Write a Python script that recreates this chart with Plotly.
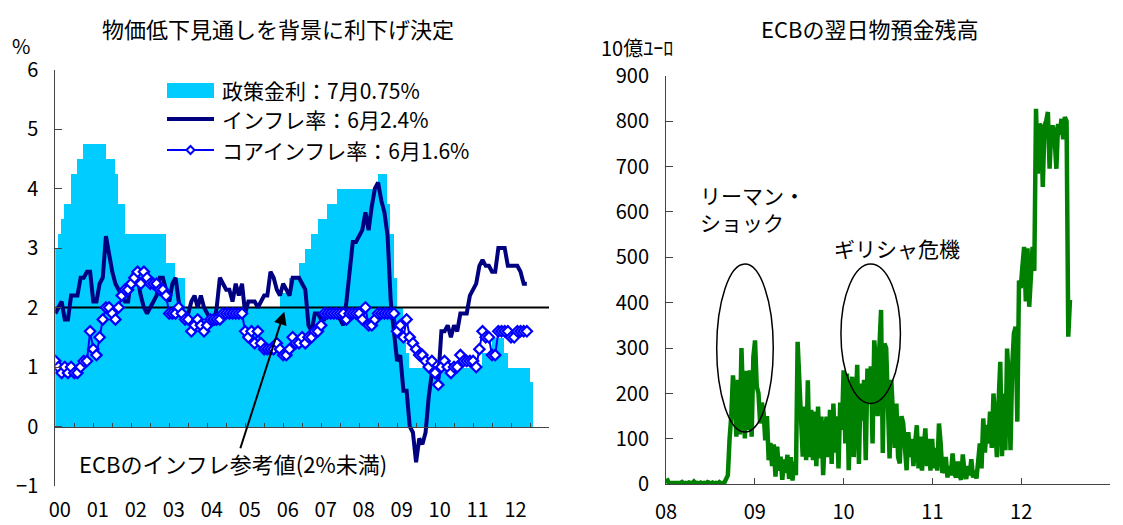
import plotly.graph_objects as go
import pandas as pd

# ---------------- data ----------------
# ECB policy rate (month-end, %), Jan 2000 - Jul 2012
policy_rate = [
    3.00, 3.25, 3.50, 3.75, 3.75, 4.25, 4.25, 4.50, 4.50, 4.75, 4.75, 4.75,
    4.75, 4.75, 4.75, 4.75, 4.50, 4.50, 4.50, 4.25, 3.75, 3.75, 3.25, 3.25,
    3.25, 3.25, 3.25, 3.25, 3.25, 3.25, 3.25, 3.25, 3.25, 3.25, 3.25, 2.75,
    2.75, 2.75, 2.50, 2.50, 2.50, 2.00, 2.00, 2.00, 2.00, 2.00, 2.00, 2.00,
    2.00, 2.00, 2.00, 2.00, 2.00, 2.00, 2.00, 2.00, 2.00, 2.00, 2.00, 2.00,
    2.00, 2.00, 2.00, 2.00, 2.00, 2.00, 2.00, 2.00, 2.00, 2.00, 2.00, 2.25,
    2.25, 2.25, 2.50, 2.50, 2.50, 2.75, 2.75, 3.00, 3.00, 3.25, 3.25, 3.50,
    3.50, 3.50, 3.75, 3.75, 3.75, 4.00, 4.00, 4.00, 4.00, 4.00, 4.00, 4.00,
    4.00, 4.00, 4.00, 4.00, 4.00, 4.00, 4.25, 4.25, 4.25, 3.75, 3.25, 2.50,
    2.00, 2.00, 1.50, 1.25, 1.00, 1.00, 1.00, 1.00, 1.00, 1.00, 1.00, 1.00,
    1.00, 1.00, 1.00, 1.00, 1.00, 1.00, 1.00, 1.00, 1.00, 1.00, 1.00, 1.00,
    1.00, 1.00, 1.00, 1.25, 1.25, 1.25, 1.50, 1.50, 1.50, 1.50, 1.25, 1.00,
    1.00, 1.00, 1.00, 1.00, 1.00, 1.00, 0.75,
]
# HICP inflation (y/y %), Jan 2000 - Jun 2012
inflation = [
    1.9, 2.0, 2.1, 1.8, 1.8, 2.2, 2.2, 2.2, 2.5, 2.5, 2.6, 2.6,
    2.1, 2.1, 2.4, 2.5, 3.2, 2.9, 2.6, 2.4, 2.3, 2.2, 2.1, 2.1,
    2.5, 2.6, 2.5, 2.2, 2.0, 1.9, 2.0, 2.1, 2.2, 2.5, 2.5, 2.3,
    2.1, 2.4, 2.5, 2.1, 1.9, 1.9, 1.9, 2.1, 2.2, 2.0, 2.2, 2.0,
    1.9, 1.8, 1.7, 2.0, 2.5, 2.4, 2.3, 2.3, 2.1, 2.4, 2.2, 2.4,
    1.9, 2.1, 2.1, 2.1, 2.0, 2.1, 2.2, 2.2, 2.6, 2.5, 2.3, 2.2,
    2.4, 2.3, 2.2, 2.5, 2.5, 2.5, 2.4, 2.3, 1.7, 1.6, 1.9, 1.9,
    1.8, 1.8, 1.9, 1.9, 1.9, 1.9, 1.8, 1.7, 2.1, 2.6, 3.1, 3.1,
    3.2, 3.3, 3.6, 3.3, 3.7, 4.0, 4.1, 3.8, 3.6, 3.2, 2.1, 1.6,
    1.1, 1.2, 0.6, 0.6, 0.0, -0.1, -0.6, -0.2, -0.3, -0.1, 0.5, 0.9,
    1.0, 0.8, 1.6, 1.6, 1.7, 1.5, 1.7, 1.6, 1.9, 1.9, 1.9, 2.2,
    2.3, 2.4, 2.7, 2.8, 2.7, 2.7, 2.6, 2.6, 3.0, 3.0, 3.0, 2.7,
    2.7, 2.7, 2.7, 2.6, 2.4, 2.4,
]
# Core inflation (y/y %), Jan 2000 - Jun 2012
core_inflation = [
    1.1, 1.0, 0.9, 1.0, 0.9, 1.0, 0.9, 0.9, 1.0, 1.1, 1.1, 1.6,
    1.3, 1.2, 1.5, 1.8, 2.0, 2.0, 1.9, 1.8, 2.0, 2.2, 2.3, 2.3,
    2.4, 2.5, 2.6, 2.4, 2.6, 2.5, 2.4, 2.4, 2.4, 2.3, 2.3, 2.2,
    1.9, 1.9, 1.9, 2.0, 1.9, 1.8, 1.8, 1.6, 1.7, 1.8, 1.7, 1.6,
    1.7, 1.8, 1.8, 1.8, 1.8, 1.9, 1.9, 1.9, 1.9, 1.9, 1.9, 1.9,
    1.6, 1.5, 1.6, 1.4, 1.6, 1.4, 1.3, 1.3, 1.3, 1.3, 1.4, 1.3,
    1.2, 1.2, 1.3, 1.5, 1.4, 1.4, 1.5, 1.4, 1.5, 1.5, 1.6, 1.6,
    1.7, 1.9, 1.9, 1.9, 1.9, 1.9, 1.9, 1.9, 1.8, 1.9, 1.9, 1.9,
    1.9, 1.8, 2.0, 1.7, 1.7, 1.8, 1.9, 1.9, 1.9, 1.9, 1.9, 1.9,
    1.6, 1.7, 1.5, 1.8, 1.5, 1.4, 1.3, 1.2, 1.2, 1.1, 1.0, 1.1,
    0.9, 0.7, 1.0, 1.1, 1.0, 0.9, 1.0, 1.0, 1.2, 1.1, 1.1, 1.1,
    1.1, 1.0, 1.3, 1.6, 1.5, 1.5, 1.2, 1.2, 1.6, 1.6, 1.6, 1.6,
    1.5, 1.5, 1.6, 1.6, 1.6, 1.6,
]
inflation_reference = 2.0
left_years = ["00", "01", "02", "03", "04", "05", "06", "07", "08", "09", "10", "11", "12"]

# ECB overnight deposits (EUR bn), weekly readings from Jan 2008
deposits = [
    # 2008
    13, 4, 3, 3, 2, 4, 3, 2, 3, 5, 2, 3, 2, 4, 3, 2, 6, 2, 3, 2, 4, 2, 3, 2, 5, 3,
    2, 4, 2, 3, 2, 5, 2, 3, 4, 12,
    20, 100, 150, 240, 200, 105, 230, 110, 300, 180, 101, 250, 120, 251, 105, 280,
    # 2009
    317, 215, 201, 134, 180, 160, 97, 150, 53, 91, 40, 88, 17, 83, 30, 61, 10, 55,
    25, 65, 12, 60, 8, 50, 20,
    314, 230, 200, 61, 171, 53, 229, 60, 164, 53, 160, 40, 171, 57, 149, 20, 109,
    149, 60, 164, 45, 178, 70, 150, 35, 180, 120,
    # 2010
    251, 90, 244, 31, 170, 237, 60, 200, 263, 45, 222, 140, 230, 53, 255, 180, 260,
    90, 317, 270, 150, 300, 384, 69, 310, 300, 160, 57, 230, 120, 80, 178, 60, 46,
    150, 134, 70, 31, 115, 60, 100, 40, 90, 130, 35, 105, 30, 90, 123, 40, 100, 30,
    # 2011
    100, 35, 80, 30, 134, 90, 25, 35, 60, 15, 40, 20, 68, 25, 15, 50, 20, 10, 66,
    26, 12, 40, 20, 55, 15, 30, 13, 50, 90, 35, 145, 70, 131, 90, 160, 80, 200, 140,
    60, 180, 270, 62, 200, 75, 299, 229, 75, 260, 332, 347, 138, 449,
    # 2012
    432, 480, 523, 403, 520, 391, 485, 523, 470, 827, 684, 794, 786, 655, 790, 800,
    820, 695, 780, 790, 760, 695, 794, 770, 805, 760, 809, 800, 325, 406,
]
right_years = ["08", "09", "10", "11", "12", ""]

# ---------------- helpers ----------------
W, H = 1123, 525
FONT = "Noto Sans CJK JP"
NAVY = "#000080"
BLUE = "#0000FF"
CYAN = "#00CCFF"
GREEN = "#008000"
AXC = "#444444"


def px(x):
    return x / W


def py(y):
    return 1 - y / H


def frac_year(dates):
    return [d.year + (d.dayofyear - 1) / (366 if d.is_leap_year else 365) for d in dates]


rate_months = pd.date_range("2000-01-01", periods=len(policy_rate), freq="MS")
infl_months = pd.date_range("2000-01-01", periods=len(inflation), freq="MS")
x_rate_start = [d.year + (d.month - 1) / 12 for d in rate_months]
x_bar = [v + 1 / 24 for v in x_rate_start]
x_infl = [d.year + (d.month - 1) / 12 for d in infl_months]
dep_dates = pd.date_range("2008-01-04", periods=len(deposits), freq="7D")
x_dep = frac_year(dep_dates)

# layout geometry (pixels)
L_X0, L_X1, L_Y0, L_Y1 = 55.3, 549, 486, 69.5   # left plot: y0 = bottom (-1), y1 = top (6)
R_X0, R_X1, R_Y0, R_Y1 = 666, 1110, 484.3, 75.7
L_YMIN, L_YMAX = -1, 6
zero_px = L_Y0 - (0 - L_YMIN) / (L_YMAX - L_YMIN) * (L_Y0 - L_Y1)

fig = go.Figure()

fig.add_trace(go.Bar(x=x_bar, y=policy_rate, width=1 / 12, marker=dict(color=CYAN, line=dict(width=0)),
                     xaxis="x", yaxis="y", showlegend=False, name="政策金利"))
fig.add_trace(go.Scatter(x=[2000, 2013], y=[inflation_reference] * 2, mode="lines",
                         line=dict(color="black", width=2), xaxis="x", yaxis="y", showlegend=False))
fig.add_trace(go.Scatter(x=x_infl, y=inflation, mode="lines", line=dict(color=NAVY, width=4),
                         xaxis="x", yaxis="y", showlegend=False, name="インフレ率"))
fig.add_trace(go.Scatter(x=x_infl, y=core_inflation, mode="lines+markers",
                         line=dict(color=BLUE, width=2),
                         marker=dict(symbol="diamond", size=8, color="white", line=dict(color=BLUE, width=2.2)),
                         xaxis="x", yaxis="y", showlegend=False, name="コアインフレ率"))
fig.add_trace(go.Scatter(x=x_dep, y=deposits, mode="lines", line=dict(color=GREEN, width=4.5),
                         xaxis="x2", yaxis="y2", showlegend=False, name="翌日物預金"))
# dummy traces to activate overlay axes
fig.add_trace(go.Scatter(x=[2000], y=[None], xaxis="x3", yaxis="y", showlegend=False, hoverinfo="skip"))
fig.add_trace(go.Scatter(x=[2000], y=[None], xaxis="x4", yaxis="y", showlegend=False, hoverinfo="skip"))

tickfont = dict(family=FONT, size=20, color="black")

fig.update_layout(
    template="none",
    width=W, height=H, autosize=False,
    margin=dict(l=0, r=0, t=0, b=0, pad=0),
    paper_bgcolor="white", plot_bgcolor="rgba(0,0,0,0)",
    bargap=0, showlegend=False,
    font=dict(family=FONT, size=20, color="black"),
    xaxis=dict(domain=[px(L_X0), px(L_X1)], range=[2000, 2013], anchor="y", automargin=False,
               showline=False, ticks="", showticklabels=False, showgrid=False, zeroline=False),
    yaxis=dict(domain=[py(L_Y0), py(L_Y1)], range=[L_YMIN, L_YMAX], anchor="x", automargin=False,
               tickmode="linear", tick0=0, dtick=1, ticks="inside", ticklen=7, tickcolor=AXC,
               showline=True, linecolor=AXC, linewidth=1, showgrid=False, zeroline=False,
               tickfont=tickfont, ticklabelstandoff=12),
    xaxis3=dict(overlaying="x", anchor="free", position=py(zero_px), range=[2000, 2013], automargin=False,
                tickmode="linear", tick0=2000, dtick=0.5, ticks="inside", ticklen=4, tickcolor=AXC,
                showline=True, linecolor=AXC, linewidth=1, showticklabels=False,
                showgrid=False, zeroline=False),
    xaxis4=dict(overlaying="x", anchor="free", position=py(L_Y0), range=[2000, 2013], automargin=False,
                tickmode="array", tickvals=[2000 + i + 0.12 for i in range(len(left_years))],
                ticktext=left_years, ticks="", showline=False, showgrid=False, zeroline=False,
                tickfont=tickfont, ticklabelstandoff=10),
    xaxis2=dict(domain=[px(R_X0), px(R_X1)], range=[2008, 2013], anchor="y2", automargin=False,
                tickmode="array", tickvals=[2008 + i for i in range(len(right_years))],
                ticktext=right_years, ticks="inside", ticklen=6, tickcolor=AXC,
                showline=True, linecolor=AXC, linewidth=1, showgrid=False, zeroline=False,
                tickfont=tickfont, ticklabelstandoff=10),
    yaxis2=dict(domain=[py(R_Y0), py(R_Y1)], range=[0, 900], anchor="x2", automargin=False,
                tickmode="linear", tick0=0, dtick=100, ticks="inside", ticklen=7, tickcolor=AXC,
                showline=True, linecolor=AXC, linewidth=1, showgrid=False, zeroline=False,
                tickfont=tickfont, ticklabelstandoff=12),
)

annotations = []


def text(x, y, s, anchor="center", size=21):
    annotations.append(dict(x=px(x), y=py(y), xref="paper", yref="paper", text=s, showarrow=False,
                            xanchor=anchor, yanchor="middle", align=anchor if anchor != "center" else "center",
                            font=dict(family=FONT, size=size, color="black")))


text(278, 28, "物価低下見通しを背景に利下げ決定", size=22)
text(869, 28, "ECBの翌日物預金残高", size=22)
text(21, 45, "%", size=20)
text(637, 48, "10億ﾕｰﾛ", size=20)
text(219.6, 90, "政策金利：7月0.75%", anchor="left", size=21)
text(219.6, 119, "インフレ率：6月2.4%", anchor="left", size=21)
text(219.6, 150, "コアインフレ率：6月1.6%", anchor="left", size=21)
text(233, 463, "ECBのインフレ参考値(2%未満)", size=22)
text(697.5, 209, "リーマン・<br>ショック", anchor="left")
text(896.5, 248, "ギリシャ危機")

annotations.append(dict(x=2006.03, y=1.93, xref="x", yref="y", ax=2004.86, ay=-0.39, axref="x", ayref="y",
                        text="", showarrow=True, arrowhead=2, arrowsize=1.3, arrowwidth=2, arrowcolor="black"))
fig.update_layout(annotations=annotations)

shapes = [
    # legend swatches
    dict(type="rect", xref="paper", yref="paper", x0=px(167), x1=px(214), y0=py(98), y1=py(83),
         fillcolor=CYAN, line=dict(width=0)),
    dict(type="line", xref="paper", yref="paper", x0=px(167), x1=px(214), y0=py(119), y1=py(119),
         line=dict(color=NAVY, width=4)),
    dict(type="line", xref="paper", yref="paper", x0=px(167), x1=px(214), y0=py(150), y1=py(150),
         line=dict(color=BLUE, width=2)),
    dict(type="path", xref="paper", yref="paper",
         path=f"M {px(186.5)} {py(150)} L {px(190.5)} {py(146)} L {px(194.5)} {py(150)} L {px(190.5)} {py(154)} Z",
         fillcolor="white", line=dict(color=BLUE, width=2)),
    # ellipses on right chart
    dict(type="circle", xref="x2", yref="y2", x0=2008.571, x1=2009.208, y0=115, y1=485,
         line=dict(color="black", width=1.5)),
    dict(type="circle", xref="x2", yref="y2", x0=2009.97, x1=2010.64, y0=178, y1=485,
         line=dict(color="black", width=1.5)),
]
fig.update_layout(shapes=shapes)

fig.write_html("out.html")
